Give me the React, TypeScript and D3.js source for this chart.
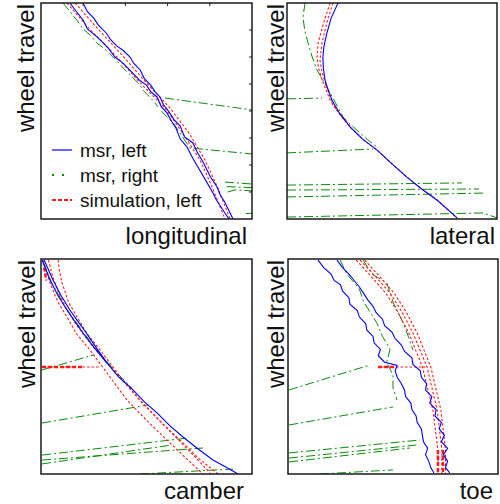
import React from 'react';
import * as d3 from 'd3';

type Pt = [number, number];

// values in percent of each axis range (x: left→right, y: wheel travel bottom→top)

const lonMsrLeft: Pt[][] = [
  [[19.9, 100], [22, 96], [25, 93], [27, 90], [31, 86], [33, 83], [36, 80], [39, 78], [42.2, 75], [44, 72], [47, 69], [49, 65], [52, 62], [54, 59], [56.4, 56.5], [58, 53], [61.1, 49.1], [63, 46], [66, 43], [68, 38], [72, 35.2], [74, 31], [77, 26], [80, 20], [83.4, 14.8], [85, 11], [87, 8], [89, 4], [91, 0]],
  [[13.7, 100], [16, 97], [20, 92], [22, 88], [26.5, 84.3], [29, 82], [32, 79], [35, 75], [38.9, 72.2], [42, 69], [45, 66], [47, 64], [50, 62], [52, 59], [55, 56.5], [57, 52], [59.7, 49.1], [62, 45], [64, 42], [66, 37], [69.2, 33.3], [72, 28], [75, 23], [78, 18], [81.5, 12], [83, 9], [85, 6], [87, 3], [89.1, 0]],
];
const lonMsrRight: Pt[][] = [
  [[10.4, 100], [13, 97], [17, 92], [20, 88], [23.2, 85.2], [27, 81], [30, 79], [33, 76], [35, 74], [38, 71], [39.8, 69], [43, 66], [46, 63], [49, 59], [52, 56], [55.5, 51.9]],
  [[58.8, 56], [100, 50.5]],
  [[57, 50], [63, 44], [70.6, 32.9], [100, 30.1]],
  [[87.2, 17.1], [100, 16.2]],
  [[88, 15], [100, 14.5]],
  [[88.5, 12.5], [92, 13.5], [100, 13]],
  [[97, 2.5], [100, 2.7]],
];
const lonSim: Pt[][] = [
  [[12.3, 100], [23, 88], [35.1, 75.9], [47, 63], [58.8, 51.4], [67, 40], [75.4, 27.3], [81, 15], [87.2, 0]],
  [[16.1, 100], [27, 88], [38.4, 75.9], [50, 63], [61.1, 51.4], [70, 40], [77.7, 27.3], [84, 14], [89.6, 0]],
];

const latMsrLeft: Pt[][] = [
  [[24.3, 100], [21, 93], [19, 86.1], [17.6, 80], [17.1, 75], [17.3, 70], [18.1, 64.4], [19.5, 60], [21.4, 55.1], [25, 49], [30, 42.6], [36, 37], [42.9, 31.9], [50, 25.5], [57.1, 19.4], [64, 14], [71.4, 8.8], [77, 4], [81, 0.5]],
];
const latMsrRight: Pt[][] = [
  [[8.6, 100], [7.6, 93.5], [8.5, 87], [10, 81.5], [12, 75], [14.3, 69], [19, 61.1], [23, 54], [26.7, 47.2], [30, 44], [34.8, 39.8], [38, 37], [42.9, 33.3]],
  [[0, 55.6], [16.7, 56.0]],
  [[0, 30.6], [41, 32.4]],
  [[0, 15.7], [83.3, 16.7]],
  [[0, 13.4], [91.4, 13.9]],
  [[0, 10.2], [93.8, 12]],
  [[0, 0.9], [93.3, 2.8], [100, 0.5]],
];
const latSim: Pt[][] = [
  [[20.5, 100], [17.5, 91], [14.8, 81.5], [14.3, 75], [15, 70], [16.7, 64.4], [18.5, 60], [20.5, 55.1], [25, 48.5], [30, 42.6], [36, 37], [42.9, 31.9], [50, 25.5], [57.1, 19.4], [64, 14], [71.4, 8.8], [77, 4], [81.4, 0]],
  [[21.9, 100], [19, 91], [16.7, 81.5], [15.7, 73.6], [16.7, 68], [18.6, 62], [21.9, 52.8], [26, 47.5], [30.5, 42.5]],
];

const camMsrLeft: Pt[][] = [
  [[0.5, 99.5], [4.3, 90.2], [8, 83], [12.3, 76.3], [16, 71], [19.9, 65.6], [25, 59], [31.3, 51.6], [37, 45], [43.6, 39.1], [49, 33.5], [55, 28.4], [61, 22.5], [67.3, 17.2], [74, 12], [81.5, 6.5], [88, 3], [93.4, 0]],
  [[1.5, 99.5], [5.7, 90.2], [9.5, 83], [13.7, 76.3], [17.5, 71], [21.5, 65.6], [26, 59], [31.3, 51.6]],
];
const camMsrRight: Pt[][] = [
  [[1, 99], [5, 89], [12, 77], [20, 66], [28, 56], [36, 47], [43, 40]],
  [[0.5, 48.4], [24.6, 55.3]],
  [[0.5, 23.7], [50.7, 32.1]],
  [[0.5, 8.8], [69.2, 16.7]],
  [[0.5, 6.5], [76.8, 12.1]],
  [[0.5, 4.7], [62.1, 13.5]],
  [[47, 0], [91, 2.3]],
];
const camSim: Pt[][] = [
  [[0.9, 99.5], [2.5, 94], [4.3, 88.8], [8, 80], [12.3, 73], [17, 65], [23.2, 57.7], [32, 46], [40.8, 34.4], [50, 25], [59.7, 15.8], [68, 8], [76.8, 0]],
  [[3.5, 99.5], [5.5, 92], [8, 85], [12, 77], [17, 69], [24, 60], [31, 52], [40, 42], [48, 33], [57, 24], [66, 15], [73, 8], [80.5, 0]],
  [[8.1, 99.5], [8.8, 94], [10, 88.8], [13, 80], [17.1, 73], [22, 65], [28, 57.7], [37, 46], [46.9, 34.4], [56, 25], [67.3, 14.4], [75, 7], [83.9, 0]],
  [[0.5, 49.8], [27.5, 49.8]],
];
const camSimBold: Pt[][] = [
  [[0.5, 49.8], [20, 49.8]],
  [[1.5, 96], [2.5, 90]],
];

const toeMsrLeft: Pt[][] = [
  [[14.3, 99.5], [17, 96], [20.5, 93], [22, 90], [25, 88], [26, 85], [29, 82], [29.5, 79], [33, 76], [34, 73], [37, 70], [37.5, 67], [40.5, 64], [41, 61], [44, 58], [43, 55], [46, 52], [52, 50.5], [51, 48], [52, 45], [54, 42], [55.5, 39], [56, 36], [58.5, 33], [59, 30], [61, 27], [61.5, 24], [63.5, 21], [64, 18], [64.5, 15], [66.5, 12], [65.5, 9], [67, 6], [68, 3], [69.5, 0.5]],
  [[23.3, 99.5], [26, 96], [29, 93], [31.5, 90], [34, 87], [36, 84], [38, 81], [40.5, 78], [42, 75], [45, 72], [46, 69], [49.5, 66], [51, 63], [54, 60], [55.5, 57], [59, 54], [59.5, 51], [63, 48], [63.5, 45], [66, 42], [65.5, 39], [68.5, 36], [67.5, 33], [70.5, 30], [70, 27], [73, 24], [72, 21], [74.5, 18], [73, 15], [76, 12], [74, 9], [76, 6], [75, 3], [77, 0.5]],
];
const toeMsrRight: Pt[][] = [
  [[24.8, 99.5], [28, 93], [34, 86], [36, 80], [40, 74], [42.4, 70], [45, 64], [48.6, 58], [47, 52], [50, 46], [50, 40], [51.9, 34.4]],
  [[35.7, 99.5], [40, 93], [47.1, 88.8], [50, 80], [54, 72], [56.7, 65.6], [59.5, 57.7]],
  [[0.5, 39.1], [39, 50.7]],
  [[0.5, 22.8], [50, 31.2]],
  [[0.5, 9.8], [62.9, 15.8]],
  [[0.5, 7.4], [61.4, 13.5]],
  [[0.5, 5.6], [58.1, 12.1]],
  [[15.2, 0], [50, 1.9]],
];
const toeSim: Pt[][] = [
  [[34.3, 99.5], [41.5, 92], [48.6, 84.2], [54.5, 75], [59.5, 65.6], [66.2, 49.8], [71, 29.8], [73.3, 11.2], [73.3, 0]],
  [[36.5, 99.5], [43.5, 92], [50.5, 84.2], [56.5, 75], [61.5, 65.6], [68, 49.8], [72.8, 29.8], [75, 11.2], [75, 0]],
  [[32.5, 99.5], [39.5, 92], [46.5, 84.2], [52.5, 75], [57.5, 65.6], [64, 49.8], [69, 29.8], [71.4, 11.2], [71.4, 0]],
  [[42.9, 49.8], [66.2, 49.8]],
];
const toeSimBold: Pt[][] = [
  [[42.9, 49.8], [52, 49.8]],
  [[71.4, 11.2], [71.4, 0]],
  [[73.8, 11.2], [73.8, 0]],
];

const legendLabels = ['msr, left', 'msr, right', 'simulation, left'];

const panels = [
  { label: 'longitudinal', x: 41, y: 3, w: 211, h: 216, xlEnd: 247, ylX: 34, left: lonMsrLeft, right: lonMsrRight, sim: lonSim, bold: [] as Pt[][], ticks: true },
  { label: 'lateral', x: 287, y: 3, w: 210, h: 216, xlEnd: 495, ylX: 284, left: latMsrLeft, right: latMsrRight, sim: latSim, bold: [] as Pt[][], ticks: false },
  { label: 'camber', x: 41, y: 259, w: 211, h: 215, xlEnd: 244, ylX: 35, left: camMsrLeft, right: camMsrRight, sim: camSim, bold: camSimBold, ticks: false },
  { label: 'toe', x: 288, y: 259, w: 210, h: 215, xlEnd: 493, ylX: 284, left: toeMsrLeft, right: toeMsrRight, sim: toeSim, bold: toeSimBold, ticks: false },
];

const BLUE = '#0000ff';
const GREEN = '#0a8a0a';
const RED = '#ff1a1a';
const FONT = '"Liberation Sans", Arial, sans-serif';

export default function App() {
  return (
    <svg width={500} height={504} style={{ position: 'absolute', left: 0, top: 0, background: '#fff' }} fontFamily={FONT}>
      <rect width={500} height={504} fill="#fff" />
      {panels.map((p, i) => {
        const xs = d3.scaleLinear().domain([0, 100]).range([p.x, p.x + p.w]);
        const ys = d3.scaleLinear().domain([0, 100]).range([p.y + p.h, p.y]);
        const line = d3.line<Pt>().x((d) => xs(d[0])).y((d) => ys(d[1]));
        const clipId = `clip${i}`;
        return (
          <g key={p.label}>
            <clipPath id={clipId}>
              <rect x={p.x} y={p.y} width={p.w} height={p.h} />
            </clipPath>
            <g clipPath={`url(#${clipId})`} fill="none">
              {p.right.map((s, j) => (
                <path key={'g' + j} d={line(s) || ''} stroke={GREEN} strokeWidth={1} strokeDasharray="9,3,2,3" />
              ))}
              {p.sim.map((s, j) => (
                <path key={'r' + j} d={line(s) || ''} stroke={RED} strokeWidth={1.1} strokeDasharray="2.5,2" />
              ))}
              {p.bold.map((s, j) => (
                <path key={'rb' + j} d={line(s) || ''} stroke={RED} strokeWidth={2.5} strokeDasharray="4,2" />
              ))}
              {p.left.map((s, j) => (
                <path key={'b' + j} d={line(s) || ''} stroke={BLUE} strokeWidth={1.1} />
              ))}
            </g>
            {p.ticks && (
              <g stroke="#222" strokeWidth={1}>
                {xs.ticks(5).filter((t) => t > 0 && t < 100).map((t) => (
                  <line key={'tx' + t} x1={xs(t)} x2={xs(t)} y1={p.y} y2={p.y + 3} />
                ))}
                {d3.range(12.5, 100, 12.5).map((t) => (
                  <line key={'ty' + t} x1={p.x + p.w} x2={p.x + p.w - 3} y1={ys(t)} y2={ys(t)} />
                ))}
              </g>
            )}
            <rect x={p.x} y={p.y} width={p.w} height={p.h} fill="none" stroke="#1a1a1a" strokeWidth={1.5} />
            <text x={p.xlEnd} y={p.y + p.h + 25} textAnchor="end" fontSize={24} fill="#111">
              {p.label}
            </text>
            <text transform={`translate(${p.ylX},${p.y + 1}) rotate(-90)`} textAnchor="end" fontSize={24} fill="#111">
              wheel travel
            </text>
          </g>
        );
      })}
      <g>
        {legendLabels.map((lab, i) => {
          const y = 150 + i * 25;
          const style =
            i === 0
              ? { stroke: BLUE, strokeWidth: 1.2 }
              : i === 1
              ? { stroke: GREEN, strokeWidth: 2, strokeDasharray: '2,8' }
              : { stroke: RED, strokeWidth: 2, strokeDasharray: '4,2' };
          return (
            <g key={lab}>
              <line x1={52} x2={72} y1={y} y2={y} {...style} />
              <text x={80} y={y + 7} fontSize={19} fill="#111">
                {lab}
              </text>
            </g>
          );
        })}
      </g>
    </svg>
  );
}
